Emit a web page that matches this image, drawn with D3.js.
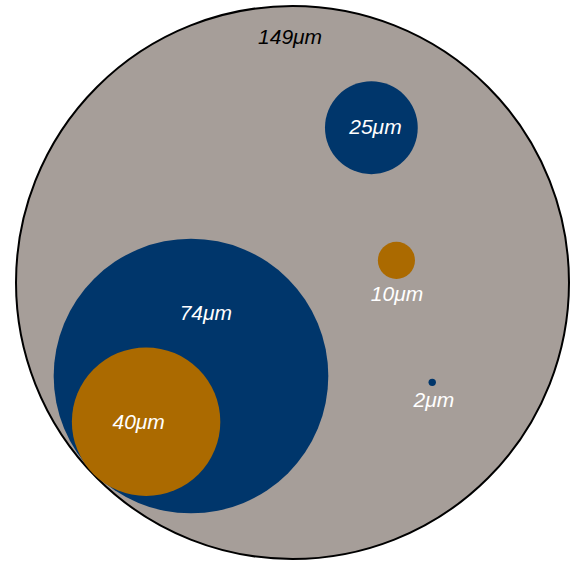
<!DOCTYPE html>
<html><head><meta charset="utf-8">
<script src="https://cdn.jsdelivr.net/npm/d3@7"></script>
<style>html,body{margin:0;padding:0;background:#fff;}svg{display:block;}</style>
</head><body>
<svg id="chart" width="571" height="561"></svg>
<script>
// sizes in µm (radius), positions of centers relative to the outer circle's center, in µm
const sizes   = [149, 74, 40, 25, 10, 2];
const centerX = [0, -54.7, -78.9, 42.5, 56.0, 75.3];
const centerY = [0, 50.4, 75.0, -83.4, -11.9, 53.8];
const fills   = ["#A69E99", "#00366B", "#AB6A00", "#00366B", "#AB6A00", "#00366B"];
const labels  = sizes.map(s => s + "\u03BCm");
const labelX  = [-1.3, -46.7, -82.9, 44.7, 56.3, 76.2];
const labelY  = [-132.8, 16.4, 75.1, -84.1, 6.0, 63.0];
const labelColor = ["#000", "#fff", "#fff", "#fff", "#fff", "#fff"];

const svg = d3.select("#chart");
const cx = 292.5, cy = 282.5, R = 276.5;
const x = d3.scaleLinear().domain([-149, 149]).range([cx - R, cx + R]);
const y = d3.scaleLinear().domain([-149, 149]).range([cy - R, cy + R]);
const r = d3.scaleLinear().domain([0, 149]).range([0, R]);

const data = sizes.map((s, i) => ({s, cx: centerX[i], cy: centerY[i], fill: fills[i], label: labels[i], lx: labelX[i], ly: labelY[i], lc: labelColor[i]}));

svg.selectAll("circle").data(data).join("circle")
  .attr("cx", d => x(d.cx)).attr("cy", d => y(d.cy)).attr("r", d => r(d.s))
  .attr("fill", d => d.fill)
  .attr("stroke", (d, i) => i === 0 ? "#000" : "none")
  .attr("stroke-width", 2);

svg.selectAll("text").data(data).join("text")
  .attr("x", d => x(d.lx)).attr("y", d => y(d.ly))
  .attr("text-anchor", "middle").attr("dominant-baseline", "central")
  .attr("font-family", "'Liberation Sans', Arial, sans-serif")
  .attr("font-style", "italic").attr("font-size", 21)
  .attr("fill", d => d.lc)
  .text(d => d.label);
</script>
</body></html>
